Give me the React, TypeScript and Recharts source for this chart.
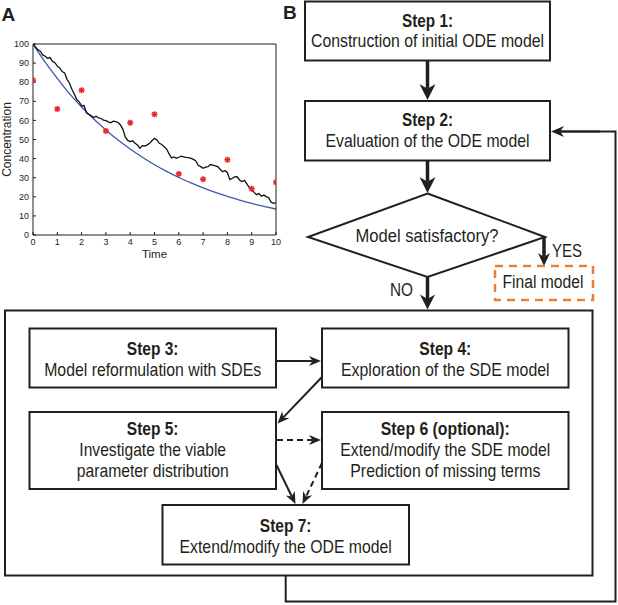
import React from 'react';
import { ComposedChart, Line, Scatter, XAxis, YAxis } from 'recharts';

// panel A data
const TIME_TICKS = [0, 1, 2, 3, 4, 5, 6, 7, 8, 9, 10];
const CONC_TICKS = [0, 10, 20, 30, 40, 50, 60, 70, 80, 90, 100];

const OBS_TIME = [0, 1, 2, 3, 4, 5, 6, 7, 8, 9, 10];
const OBS_CONC = [81, 66, 75.8, 54.5, 58.8, 63.2, 32, 29.2, 39.4, 24.2, 27.6];

const ODE_TIME = [0, 0.5, 1, 1.5, 2, 2.5, 3, 3.5, 4, 4.5, 5, 5.5, 6, 6.5, 7, 7.5, 8, 8.5, 9, 9.5, 10];
const ODE_CONC = [100, 90.5, 82, 74, 67, 60.7, 55, 49.7, 45, 40.7, 36.8, 33.3, 30.1, 27.3, 24.7, 22.3, 20.2, 18.3, 16.5, 15, 13.6];

const SDE_TIME = [
  0, 0.1, 0.2, 0.3, 0.4, 0.5, 0.6, 0.7, 0.8, 0.9, 1, 1.1, 1.2, 1.3, 1.4, 1.5, 1.6, 1.7, 1.8, 1.9, 2,
  2.1, 2.2, 2.3, 2.4, 2.5, 2.6, 2.7, 2.8, 2.9, 3, 3.1, 3.2, 3.3, 3.4, 3.5, 3.6, 3.7, 3.8, 3.9, 4,
  4.1, 4.2, 4.3, 4.4, 4.5, 4.6, 4.7, 4.8, 4.9, 5, 5.1, 5.2, 5.3, 5.4, 5.5, 5.6, 5.7, 5.8, 5.9, 6,
  6.1, 6.2, 6.3, 6.4, 6.5, 6.6, 6.7, 6.8, 6.9, 7, 7.1, 7.2, 7.3, 7.4, 7.5, 7.6, 7.7, 7.8, 7.9, 8,
  8.1, 8.2, 8.3, 8.4, 8.5, 8.6, 8.7, 8.8, 8.9, 9, 9.1, 9.2, 9.3, 9.4, 9.5, 9.6, 9.7, 9.8, 9.9, 10,
];
const SDE_CONC = [
  100, 98.5, 97, 96.2, 94.3, 93.6, 92.5, 92.9, 91, 90.2, 88.4, 87.5, 85.6, 84.9, 81.5, 79.6, 76.3, 73.8, 70.9, 69.7, 67.6,
  67.8, 64, 63.1, 62.4, 61.5, 62.2, 61.3, 61, 60.2, 59.9, 59.2, 58.8, 59.6, 59.3, 58.9, 57.6, 55.3, 51.2, 49.5, 48.9,
  49.3, 48, 47.1, 45.4, 46.8, 46.6, 47.2, 48, 49.5, 50.6, 49.8, 48, 47.4, 46.2, 45, 42.5, 40.4, 40.9, 40.2, 40.7,
  41.3, 40.9, 40.6, 40.5, 40.1, 39.6, 38.8, 36.5, 35.8, 34.9, 35.5, 35.8, 36.9, 36.6, 36.2, 35.8, 34.4, 33.1, 33.8, 32.6,
  29, 29.7, 30.4, 30.5, 28.8, 28, 28.6, 26.8, 24.8, 23.6, 22.3, 21.1, 21.7, 20.3, 20.9, 20.1, 19.5, 17.2, 16.6, 17,
];

const obsData = OBS_TIME.map((t, i) => ({ t, c: OBS_CONC[i] }));
const odeData = ODE_TIME.map((t, i) => ({ t, c: ODE_CONC[i] }));
const sdeData = SDE_TIME.map((t, i) => ({ t, c: SDE_CONC[i] }));

const INK = '#231f20';
const NARROW = "'Liberation Sans Narrow','Liberation Sans',Arial,sans-serif";

const Star = (props: any) => {
  const { cx, cy } = props;
  const r = 3;
  return (
    <g stroke="#e8262b" strokeWidth={1.5}>
      <line x1={cx - r} y1={cy} x2={cx + r} y2={cy} />
      <line x1={cx} y1={cy - r} x2={cx} y2={cy + r} />
      <line x1={cx - 2.2} y1={cy - 2.2} x2={cx + 2.2} y2={cy + 2.2} />
      <line x1={cx - 2.2} y1={cy + 2.2} x2={cx + 2.2} y2={cy - 2.2} />
    </g>
  );
};

const Txt = ({ x, y, w, bold, size = 19, anchor = 'middle', fill = INK, children }: any) => (
  <text
    x={x}
    y={y}
    textAnchor={anchor}
    textLength={w}
    lengthAdjust="spacingAndGlyphs"
    fontFamily={NARROW}
    fontSize={size}
    fontWeight={bold ? 'bold' : 'normal'}
    fill={fill}
  >
    {children}
  </text>
);

const Arrow = ({ x1, y1, x2, y2, w = 2, len = 12, half = 5, dash }: any) => {
  const d = Math.hypot(x2 - x1, y2 - y1);
  const ux = (x2 - x1) / d;
  const uy = (y2 - y1) / d;
  const px = -uy;
  const py = ux;
  const bx = x2 - ux * len;
  const by = y2 - uy * len;
  const nx = x2 - ux * len * 0.7;
  const ny = y2 - uy * len * 0.7;
  return (
    <g>
      <line x1={x1} y1={y1} x2={nx} y2={ny} stroke={INK} strokeWidth={w} strokeDasharray={dash} />
      <path
        d={`M${x2},${y2} L${bx + px * half},${by + py * half} L${nx},${ny} L${bx - px * half},${by - py * half} Z`}
        fill={INK}
      />
    </g>
  );
};

const Box = ({ x, y, w, h }: any) => (
  <rect x={x} y={y} width={w} height={h} fill="#fff" stroke={INK} strokeWidth={2} />
);

const Flow = () => (
  <svg width={618} height={605} style={{ position: 'absolute', left: 0, top: 0 }}>
    <text x={1.5} y={20.5} fontFamily="'Liberation Sans',Arial,sans-serif" fontSize={19} fontWeight="bold" fill={INK}>A</text>
    <text x={283} y={18.5} fontFamily="'Liberation Sans',Arial,sans-serif" fontSize={19} fontWeight="bold" fill={INK}>B</text>

    {/* outer SDE box + feedback loop */}
    <rect x={5} y={310.5} width={587.5} height={265} fill="none" stroke={INK} strokeWidth={2} />
    <polyline points="285.7,576 285.7,601.5 615.5,601.5 615.5,131.5 560,131.5" fill="none" stroke={INK} strokeWidth={2} />
    <Arrow x1={600} y1={131.5} x2={551} y2={131.5} w={2} len={13} half={5.5} />

    <Box x={305} y={1.5} w={245} h={59} />
    <Txt x={427.5} y={26.5} w={51} bold>Step 1:</Txt>
    <Txt x={427.5} y={46.5} w={233}>Construction of initial ODE model</Txt>

    <Arrow x1={427.5} y1={60.5} x2={427.5} y2={100} w={3.5} len={16} half={8} />

    <Box x={305} y={101} w={245} h={59.5} />
    <Txt x={427.5} y={125.5} w={51} bold>Step 2:</Txt>
    <Txt x={427.5} y={146.5} w={204}>Evaluation of the ODE model</Txt>

    <Arrow x1={427.5} y1={160.5} x2={427.5} y2={193} w={3.5} len={16} half={8} />

    <polygon points="427.5,193.5 545,237 427.5,277 308,237" fill="#fff" stroke={INK} strokeWidth={2} strokeLinejoin="miter" />
    <Txt x={427} y={242} w={143} size={18}>Model satisfactory?</Txt>

    <Arrow x1={544} y1={236} x2={544} y2={266} w={3.5} len={13} half={6} />
    <Txt x={552} y={257} w={30} size={18} anchor="start">YES</Txt>

    <rect x={495} y={266} width={98} height={34} fill="none" stroke="#e9803a" strokeWidth={2.5} strokeDasharray="8 6" />
    <Txt x={543} y={288} w={81} size={18}>Final model</Txt>

    <Arrow x1={427.5} y1={277} x2={427.5} y2={309.5} w={3.5} len={15} half={7.5} />
    <Txt x={390} y={296} w={23} size={18} anchor="start">NO</Txt>

    <Box x={29.5} y={328.5} w={246.5} h={59} />
    <Txt x={152.7} y={355} w={51.7} bold>Step 3:</Txt>
    <Txt x={152.7} y={376} w={217}>Model reformulation with SDEs</Txt>

    <Box x={322} y={328.5} w={246.5} h={59} />
    <Txt x={445.3} y={355} w={52} bold>Step 4:</Txt>
    <Txt x={445.3} y={376} w={208.7}>Exploration of the SDE model</Txt>

    <Box x={29.5} y={412} w={246.5} h={77} />
    <Txt x={152.7} y={435} w={51.7} bold>Step 5:</Txt>
    <Txt x={152.7} y={455.5} w={146.7}>Investigate the viable</Txt>
    <Txt x={152.7} y={476.7} w={152}>parameter distribution</Txt>

    <Box x={322} y={412} w={246.5} h={77} />
    <Txt x={445.3} y={435} w={129} bold>Step 6 (optional):</Txt>
    <Txt x={445.3} y={455.5} w={210}>Extend/modify the SDE model</Txt>
    <Txt x={445.3} y={476.7} w={190}>Prediction of missing terms</Txt>

    <Box x={162.5} y={505} w={246.5} h={59.5} />
    <Txt x={285.7} y={531.5} w={51.7} bold>Step 7:</Txt>
    <Txt x={285.7} y={552.5} w={212.3}>Extend/modify the ODE model</Txt>

    <Arrow x1={277} y1={361} x2={321} y2={361} />
    <Arrow x1={322} y1={377} x2={277.5} y2={423.5} />
    <Arrow x1={277} y1={440} x2={321} y2={440} dash="6 4" />
    <Arrow x1={276.5} y1={465} x2={295.5} y2={504} />
    <Arrow x1={322} y1={463} x2={302.5} y2={504} dash="6 4" />
  </svg>
);

const axisText = { fontSize: 9, fill: INK, fontFamily: "'Liberation Sans',Arial,sans-serif" };
const blank = () => '';

export default function App() {
  return (
    <div style={{ position: 'absolute', left: 0, top: 0, width: 618, height: 605, background: '#fff', overflow: 'hidden' }}>
      <div style={{ position: 'absolute', left: 0, top: 0, fontFamily: "'Liberation Sans',Arial,sans-serif" }}>
        <ComposedChart width={290} height={270} margin={{ top: 43, right: 13, bottom: 5, left: 0 }}>
          <XAxis
            xAxisId="b"
            dataKey="t"
            type="number"
            domain={[0, 10]}
            ticks={TIME_TICKS}
            allowDataOverflow
            height={30}
            tickSize={-3}
            tickMargin={7}
            stroke={INK}
            tick={axisText}
            label={{ value: 'Time', position: 'insideBottom', offset: 7, fontSize: 11.5, fill: INK }}
          />
          <XAxis
            xAxisId="top"
            orientation="top"
            dataKey="t"
            type="number"
            domain={[0, 10]}
            ticks={TIME_TICKS}
            height={1}
            tickSize={-3}
            tickMargin={0}
            stroke={INK}
            tickFormatter={blank}
          />
          <YAxis
            yAxisId="l"
            type="number"
            domain={[0, 100]}
            ticks={CONC_TICKS}
            allowDataOverflow
            width={33}
            tickSize={-3}
            tickMargin={7}
            stroke={INK}
            tick={axisText}
            label={{ value: 'Concentration', angle: -90, position: 'insideLeft', offset: 7, fontSize: 12, fill: INK, style: { textAnchor: 'middle' } }}
          />
          <YAxis
            yAxisId="r"
            orientation="right"
            type="number"
            domain={[0, 100]}
            ticks={CONC_TICKS}
            width={1}
            tickSize={-3}
            tickMargin={0}
            stroke={INK}
            tickFormatter={blank}
          />
          <Line xAxisId="b" yAxisId="l" data={odeData} dataKey="c" type="monotone" stroke="#3a5ba8" strokeWidth={1.3} dot={false} isAnimationActive={false} />
          <Line xAxisId="b" yAxisId="l" data={sdeData} dataKey="c" type="linear" stroke="#111" strokeWidth={1.3} dot={false} isAnimationActive={false} />
          <Scatter xAxisId="b" yAxisId="l" data={obsData} dataKey="c" shape={Star} isAnimationActive={false} />
        </ComposedChart>
      </div>
      <Flow />
    </div>
  );
}
